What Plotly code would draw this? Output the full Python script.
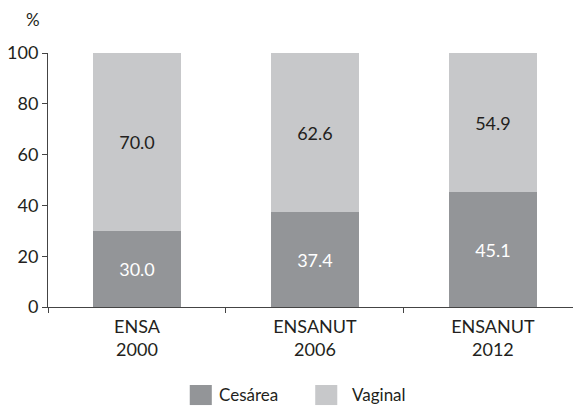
import plotly.graph_objects as go

categories = ["ENSA<br>2000", "ENSANUT<br>2006", "ENSANUT<br>2012"]
cesarea = [30.0, 37.4, 45.1]
vaginal = [70.0, 62.6, 54.9]
series_names = ["Cesárea", "Vaginal"]
colors = ["#939598", "#c7c8ca"]
text_colors = ["#ffffff", "#231f20"]
y_ticks = [0, 20, 40, 60, 80, 100]

FONT = "Lato, 'Open Sans', sans-serif"
fig = go.Figure()
for name, vals, col, tcol in zip(series_names, [cesarea, vaginal], colors, text_colors):
    fig.add_trace(go.Bar(
        x=categories, y=vals, name=name, marker=dict(color=col, line=dict(width=0)),
        text=[f"{v:.1f}" for v in vals], textposition="inside", insidetextanchor="middle",
        textfont=dict(color=tcol, size=18, family=FONT), showlegend=False,
        hoverinfo="skip",
    ))

fig.update_layout(
    barmode="stack", bargap=0.51,
    width=575, height=398,
    margin=dict(l=40, r=10, t=45, b=99, autoexpand=False),
    paper_bgcolor="white", plot_bgcolor="white",
    font=dict(family=FONT, size=17, color="#231f20"),
    xaxis=dict(range=[-0.5, 2.45], showline=True, linecolor="#444444", linewidth=1,
               ticks="outside", tickson="boundaries", ticklen=5, tickcolor="#444444",
               showgrid=False, tickfont=dict(size=18), automargin=False,
               ticklabelstandoff=3),
    yaxis=dict(range=[0, 100], tickvals=y_ticks, showline=True, linecolor="#444444",
               linewidth=1, ticks="outside", ticklen=5, tickcolor="#444444",
               showgrid=False, zeroline=False, tickfont=dict(size=18), automargin=False,
               ticklabelstandoff=0),
)

fig.add_annotation(text="%", xref="paper", yref="paper", x=-0.012, y=1.13,
                   showarrow=False, xanchor="right", yanchor="middle", font=dict(size=17))

# legend drawn manually for larger swatches
leg_x = [0.270, 0.509]
txt_x = [0.322, 0.575]
for lx, tx, col, name in zip(leg_x, txt_x, colors, series_names):
    fig.add_shape(type="rect", xref="paper", yref="paper",
                  x0=lx, x1=lx + 0.042, y0=-0.386, y1=-0.307,
                  fillcolor=col, line=dict(width=0))
    fig.add_annotation(text=name, xref="paper", yref="paper", x=tx, y=-0.346,
                       xanchor="left", yanchor="middle", showarrow=False, font=dict(size=17))

fig.write_html("out.html")
